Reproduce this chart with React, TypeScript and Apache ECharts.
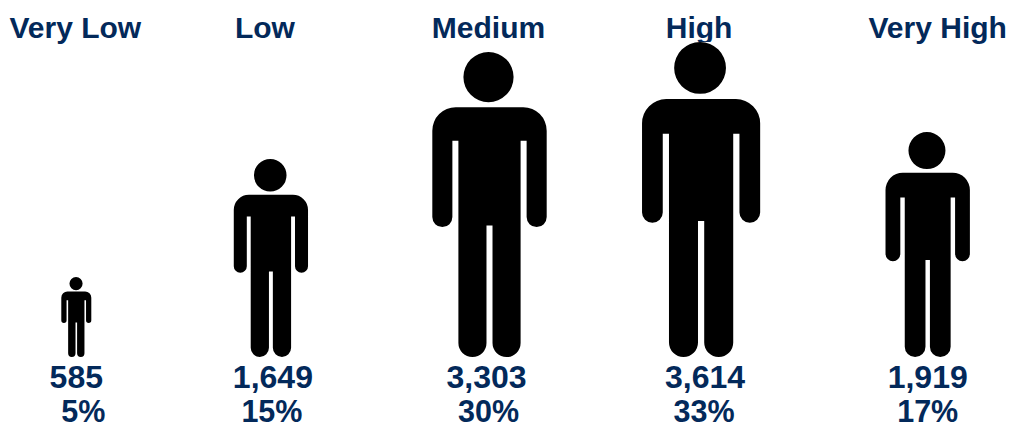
import React, { useEffect, useRef } from "react";
import * as echarts from "echarts";

const categories = ["Very Low", "Low", "Medium", "High", "Very High"];
const countLabels = ["585", "1,649", "3,303", "3,614", "1,919"];
const shareLabels = ["5%", "15%", "30%", "33%", "17%"];
const iconHeights = [80, 198, 305, 315, 225];

const PERSON =
  "M70 165H272A70 70 0 0 1 342 235V493A30 30 0 0 1 282 493V265H264V869A42 42 0 0 1 180 869V518H162V869A42 42 0 0 1 78 869V265H60V493A30 30 0 0 1 0 493V235A70 70 0 0 1 70 165Z" +
  "M243 75A75 75 0 1 1 93 75A75 75 0 1 1 243 75Z";

const NAVY = "#03295a";
const iconShift = [-25, -33, -17, -8, 16];
const titleShift = [-26, -39, -18, -10, 26];
const countShift = [-25, -31, -20, -4, 16];
const shareShift = [-18, -32, -18, -5, 16];

export default function App() {
  const ref = useRef<HTMLDivElement>(null);
  useEffect(() => {
    document.body.style.margin = "0";
    const chart = echarts.init(ref.current!, undefined, { renderer: "svg" });
    const text = (s: string, x: number, y: number, size: number) => ({
      type: "text",
      silent: true,
      style: {
        text: s,
        x,
        y,
        fill: NAVY,
        font: `bold ${size}px "Liberation Sans", Arial, sans-serif`,
        textAlign: "center",
        textVerticalAlign: "middle",
      },
    });
    chart.setOption({
      animation: false,
      tooltip: { show: false },
      grid: { left: 0, right: 0, top: 0, bottom: 72 },
      xAxis: { type: "category", data: categories, show: false },
      yAxis: { type: "value", min: 0, max: 357, show: false },
      series: [
        {
          type: "custom",
          clip: false,
          silent: true,
          data: iconHeights.map((h, i) => [i, h]),
          encode: { x: 0, y: 1 },
          renderItem: (params: any, api: any) => {
            const i = params.dataIndex;
            const [cx, top] = api.coord([api.value(0), api.value(1)]);
            const [, base] = api.coord([api.value(0), 0]);
            const h = base - top;
            const w = h * 0.375;
            const x = cx + iconShift[i] - w / 2;
            return {
              type: "group",
              children: [
                text(categories[i], cx + titleShift[i], 27, 30),
                {
                  type: "rect",
                  shape: { x: x - 2, y: top, width: w + 4, height: h },
                  style: { fill: "#ffffff" },
                },
                {
                  type: "path",
                  shape: { pathData: PERSON, layout: "cover", x, y: top, width: w, height: h },
                  style: { fill: "#000000" },
                },
                text(countLabels[i], cx + countShift[i], base + 19.5, 32),
                text(shareLabels[i], cx + shareShift[i], base + 54, 30.5),
              ],
            };
          },
        },
      ],
    });
    return () => chart.dispose();
  }, []);
  return <div ref={ref} style={{ width: 1013, height: 429, background: "#fff" }} />;
}
